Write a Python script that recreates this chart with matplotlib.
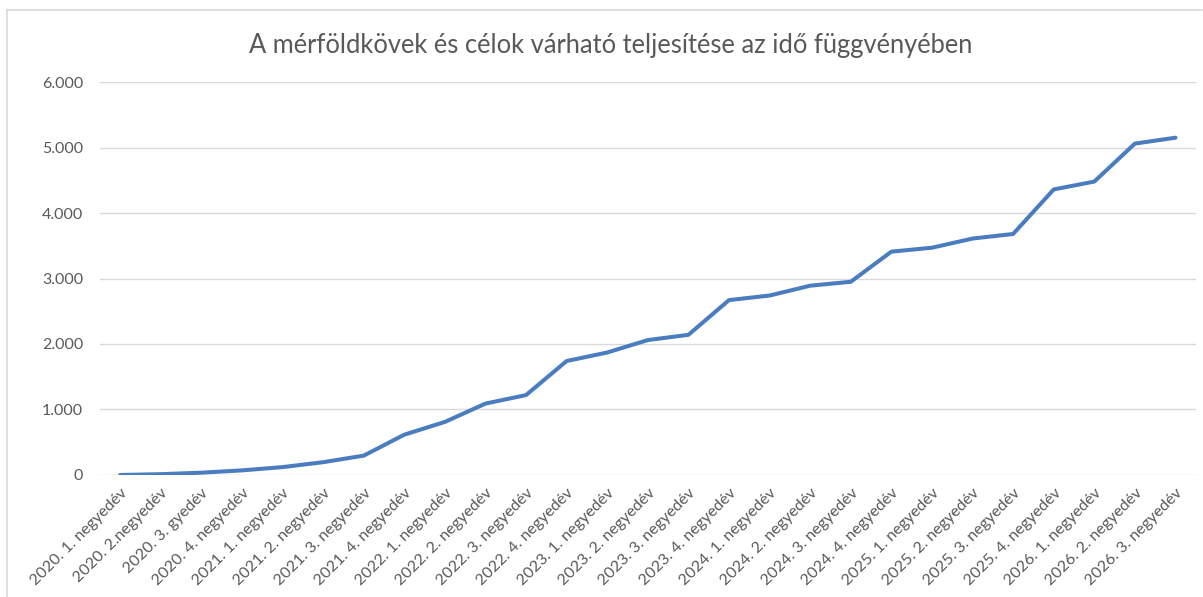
import matplotlib.pyplot as plt
from matplotlib.lines import Line2D

quarters = ["2020. 1. negyedév", "2020. 2.negyedév", "2020. 3. gyedév", "2020. 4. negyedév",
            "2021. 1. negyedév", "2021. 2. negyedév", "2021. 3. negyedév", "2021. 4. negyedév",
            "2022. 1. negyedév", "2022. 2. negyedév", "2022. 3. negyedév", "2022. 4. negyedév",
            "2023. 1. negyedév", "2023. 2. negyedév", "2023. 3. negyedév", "2023. 4. negyedév",
            "2024. 1. negyedév", "2024. 2. negyedév", "2024. 3. negyedév", "2024. 4. negyedév",
            "2025. 1. negyedév", "2025. 2. negyedév", "2025. 3. negyedév", "2025. 4. negyedév",
            "2026. 1. negyedév", "2026. 2. negyedév", "2026. 3. negyedév"]
values = [0, 12, 35, 70, 120, 195, 295, 615, 810, 1090, 1220, 1740,
          1870, 2060, 2140, 2670, 2740, 2890, 2950, 3410,
          3470, 3610, 3680, 4360, 4480, 5060, 5150]
yticks = [0, 1000, 2000, 3000, 4000, 5000, 6000]
ytick_labels = ["0", "1.000", "2.000", "3.000", "4.000", "5.000", "6.000"]

plt.rcParams['font.family'] = ['Lato', 'DejaVu Sans']
grey = '#595959'

fig = plt.figure(figsize=(12.03, 5.97), dpi=100)
ax = fig.add_axes([0.083, 0.2044, 0.911, 0.6582])

x = list(range(len(quarters)))
ax.plot(x, values, color='#4a7dbf', lw=2.9, solid_capstyle='round', solid_joinstyle='round', zorder=3)

ax.set_xlim(-0.5, len(quarters) - 0.5)
ax.set_ylim(0, 6000)
ax.set_yticks(yticks)
ax.set_yticklabels(ytick_labels, fontsize=11.5, color=grey)
ax.set_xticks(x)
ax.set_xticklabels(quarters, fontsize=11.5, color=grey, rotation=45, ha='right', rotation_mode='anchor')
ax.tick_params(axis='both', length=0)
ax.tick_params(axis='y', pad=12)
ax.tick_params(axis='x', pad=8)
ax.grid(axis='y', color='#d9d9d9', lw=1)
ax.set_axisbelow(True)
for s in ax.spines.values():
    s.set_visible(False)

fig.text(0.508, 0.924, "A mérföldkövek és célok várható teljesítése az idő függvényében",
         ha='center', va='center', fontsize=18.4, color=grey)

# chart frame (left and top edges visible)
fig.add_artist(Line2D([7/1203, 7/1203], [0, 1 - 10/597], color='#d9d9d9', lw=1.2))
fig.add_artist(Line2D([7/1203, 1202/1203], [1 - 10/597, 1 - 10/597], color='#d9d9d9', lw=1.2))

fig.savefig('out.png', dpi=100)
